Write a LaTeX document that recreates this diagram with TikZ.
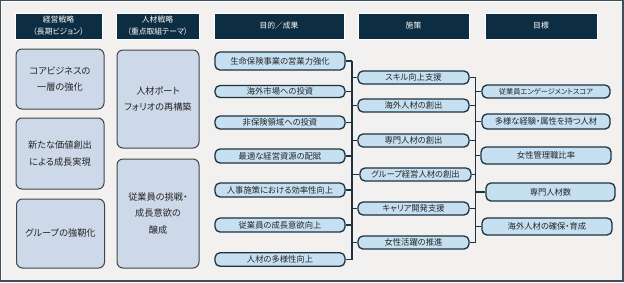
\documentclass[tikz,border=0pt]{standalone}
\usepackage{fontspec}
\setmainfont{Noto Sans CJK JP}[RawFeature={+palt}]
\definecolor{bgc}{HTML}{F2F1EF}
\definecolor{framec}{HTML}{3D505C}
\definecolor{headc}{HTML}{0D2D42}
\definecolor{leftc}{HTML}{CDD8E9}
\definecolor{leftb}{HTML}{3F4549}
\definecolor{pillc}{HTML}{C6E0F1}
\definecolor{pillb}{HTML}{1C3142}
\definecolor{txtc}{HTML}{262626}
\tikzset{
  headbox/.style={fill=headc, draw=white, line width=0.8pt, text=white, align=center,
    inner sep=0pt, font=\fontsize{7.8}{12}\selectfont},
  bigbox/.style={fill=leftc, draw=leftb, line width=1pt, rounded corners=6pt, text=txtc,
    align=center, inner sep=0pt, font=\fontsize{9.2}{16.5}\selectfont},
  pill/.style={fill=pillc, draw=pillb, line width=1.3pt, rounded corners=5pt, text=txtc,
    align=center, inner sep=0pt, font=\fontsize{8.3}{10}\selectfont},
  conn/.style={draw=pillb, line width=1.4pt},
}
\begin{document}
\begin{tikzpicture}[x=1pt,y=-1pt]
\useasboundingbox (0,0) rectangle (624,282);
\fill[framec] (0,0) rectangle (624,282);
\fill[white] (1,1) rectangle (621.5,279.5);
\fill[bgc] (1.8,1.8) rectangle (621.5,279.5);
% headers
\node[headbox, minimum width=87pt, minimum height=26pt] (h1) at (58.5,26) {経営戦略\\（長期ビジョン）};
\node[headbox, minimum width=83pt, minimum height=26pt] (h2) at (157.5,26) {人材戦略\\（重点取組テーマ）};
\node[headbox, minimum width=130pt, minimum height=26pt] (h3) at (279,26) {目的／成果};
\node[headbox, minimum width=111pt, minimum height=26pt] (h4) at (413.5,26) {施策};
\node[headbox, minimum width=112pt, minimum height=26pt] (h5) at (541,26) {目標};
% left boxes
\node[bigbox, minimum width=88pt, minimum height=60pt] (L1) at (60,79) {コアビジネスの\\一層の強化};
\node[bigbox, minimum width=88pt, minimum height=71pt] (L2) at (60,153.5) {新たな価値創出\\による成長実現};
\node[bigbox, minimum width=88pt, minimum height=69pt] (L3) at (60.5,233.5) {グループの強靭化};
\node[bigbox, minimum width=82pt, minimum height=98pt] (M1) at (158,99) {人材ポート\\フォリオの再構築};
\node[bigbox, minimum width=82pt, minimum height=109pt] (M2) at (158,213.5) {従業員の挑戦・\\成長意欲の\\醸成};
% purposes
\node[pill, minimum width=130pt, minimum height=18pt] (P1) at (280,61) {生命保険事業の営業力強化};
\node[pill, minimum width=130pt, minimum height=12pt] (P2) at (280,91.5) {海外市場への投資};
\node[pill, minimum width=130pt, minimum height=13pt] (P3) at (280,122.5) {非保険領域への投資};
\node[pill, minimum width=130pt, minimum height=14pt] (P4) at (280,156) {最適な経営資源の配賦};
\node[pill, minimum width=130pt, minimum height=14pt] (P5) at (280,190) {人事施策における効率性向上};
\node[pill, minimum width=130pt, minimum height=14pt] (P6) at (280,225) {従業員の成長意欲向上};
\node[pill, minimum width=130pt, minimum height=13.5pt] (P7) at (280,259.5) {人材の多様性向上};
% measures
\node[pill, minimum width=111pt, minimum height=13pt] (S1) at (413.5,77.5) {スキル向上支援};
\node[pill, minimum width=111pt, minimum height=13pt] (S2) at (413.5,105.5) {海外人材の創出};
\node[pill, minimum width=111pt, minimum height=13pt] (S3) at (413.5,140.5) {専門人材の創出};
\node[pill, minimum width=111pt, minimum height=13pt] (S4) at (415.5,174.5) {グループ経営人材の創出};
\node[pill, minimum width=111pt, minimum height=13pt] (S5) at (413.5,208.5) {キャリア開発支援};
\node[pill, minimum width=111pt, minimum height=13pt] (S6) at (413.5,242.5) {女性活躍の推進};
% targets
\node[pill, minimum width=128pt, minimum height=13pt, font=\fontsize{7.2}{10}\selectfont] (T1) at (546,91.5) {従業員エンゲージメントスコア};
\node[pill, minimum width=128pt, minimum height=15pt] (T2) at (546,121.5) {多様な経験・属性を持つ人材};
\node[pill, minimum width=130pt, minimum height=17pt] (T3) at (546,155.5) {女性管理職比率};
\node[pill, minimum width=129pt, minimum height=18pt] (T4) at (550.5,192) {専門人材数};
\node[pill, minimum width=130pt, minimum height=17pt] (T5) at (547,226.5) {海外人材の確保・育成};
% buses
\coordinate (busA) at (352,0);
\coordinate (busB) at (475.5,0);
\draw[conn] (P1.east -| busA) -- (P7.east -| busA);
\foreach \n in {P1,P2,P3,P4,P5,P6,P7} \draw[conn] (\n.east) -- (\n.east -| busA);
\foreach \n in {S1,S2,S3,S4,S5,S6} \draw[conn] (\n.west) -- (\n.west -| busA);
\draw[conn] (S1.east -| busB) -- (S6.east -| busB);
\foreach \n in {S1,S2,S3,S4,S5,S6} \draw[conn] (\n.east) -- (\n.east -| busB);
\foreach \n in {T1,T2,T3,T4,T5} \draw[conn] (\n.west) -- (\n.west -| busB);
\end{tikzpicture}
\end{document}
